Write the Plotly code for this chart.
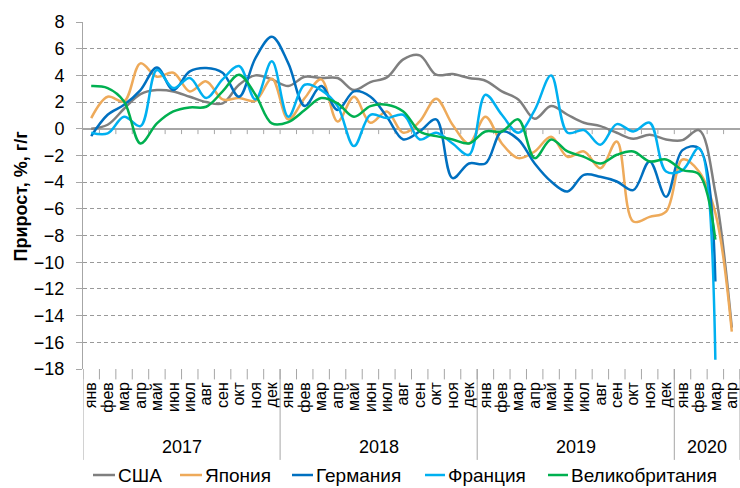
import plotly.graph_objects as go

months = ["янв", "фев", "мар", "апр", "май", "июн", "июл", "авг", "сен", "окт", "ноя", "дек"]
years = ["2017", "2018", "2019", "2020"]
months_per_year = [12, 12, 12, 4]
month_labels = months * 3 + months[:4]

usa = [0.0, 0.3, 1.5, 2.6, 2.9, 2.8, 2.4, 2.0, 1.9, 3.3, 4.0, 3.7,
       3.2, 3.9, 3.8, 3.8, 2.9, 3.5, 3.85, 5.2, 5.5, 4.05, 4.1, 3.8,
       3.6, 2.8, 2.2, 0.75, 1.7, 1.05, 0.45, 0.2, -0.3, -0.75, -0.45, -0.8,
       -0.85, -0.1, -4.8, -14.9]
japan = [0.8, 2.4, 2.05, 4.9, 3.9, 4.2, 2.8, 3.55, 2.2, 2.3, 2.1, 3.75,
         0.7, 2.3, 3.7, 0.55, 2.4, 0.45, 1.3, -0.3, 0.55, 2.25, 0.3, -1.1,
         0.9, -1.1, -2.2, -1.7, -0.6, -2.1, -1.7, -2.95, -0.95, -6.95, -6.6, -6.2,
         -2.3, -3.2, -6.3, -15.2]
germany = [-0.55, 1.05, 1.8, 2.9, 4.6, 2.9, 4.3, 4.55, 4.2, 2.4, 5.3, 6.9,
           4.9, 1.7, 3.2, 1.4, 2.8, 2.4, 0.9, -0.8, -0.2, 0.7, -3.7, -2.6,
           -2.6, -0.2, -0.8, -2.6, -3.95, -4.7, -3.45, -3.6, -3.95, -4.6, -2.45, -5.1,
           -1.6, -1.45, -11.45, None]
france = [-0.3, -0.35, 0.9, 0.2, 4.4, 3.05, 3.8, 2.3, 3.7, 4.7, 2.2, 5.05,
          0.9, 3.3, 2.9, 1.7, -1.3, 1.05, 0.8, 1.05, -0.8, -0.3, -1.1, -1.95,
          2.55, 1.05, -0.3, 1.4, 4.0, -0.3, -0.1, -1.2, 0.35, -0.2, 0.45, -3.2,
          -3.1, -1.45, -17.3, None]
uk = [3.2, 3.05, 2.05, -1.1, 0.4, 1.3, 1.6, 1.65, 2.8, 4.05, 2.55, 0.4,
      0.5, 1.4, 2.3, 1.9, 0.9, 1.7, 1.8, 1.3, -0.2, -0.55, -0.8, -1.1,
      -0.2, -0.2, 0.7, -2.2, -0.8, -1.7, -2.1, -2.6, -1.95, -1.7, -2.45, -2.3,
      -3.1, -3.4, -8.3, None]

series_names = ["США", "Япония", "Германия", "Франция", "Великобритания"]
series_values = [usa, japan, germany, france, uk]
series_colors = ["#7f7f7f", "#eeaa5a", "#0070c0", "#00b0f0", "#00b050"]

n = len(month_labels)
xs = list(range(n))

fig = go.Figure()
for name, vals, color in zip(series_names, series_values, series_colors):
    fig.add_trace(go.Scatter(
        x=xs, y=vals, name=name, mode="lines", showlegend=False,
        line=dict(color=color, width=2.5, shape="spline", smoothing=1.0),
        connectgaps=False,
    ))

axis_gray = "#a6a6a6"
shapes = []
# small ticks on the zero line at month boundaries
for k in range(1, n):
    shapes.append(dict(type="line", xref="x", yref="y", x0=k - 0.5, x1=k - 0.5,
                       y0=0, y1=-0.4, line=dict(color=axis_gray, width=1), layer="below"))
# ticks below the plot at month boundaries
for k in range(0, n + 1):
    shapes.append(dict(type="line", xref="x", yref="paper", x0=k - 0.5, x1=k - 0.5,
                       y0=0, y1=-0.03, line=dict(color=axis_gray, width=1)))
# year dividers and year labels
annotations = []
start = 0
bounds = [-0.5]
for yr, cnt in zip(years, months_per_year):
    end = start + cnt
    bounds.append(end - 0.5)
    annotations.append(dict(text=yr, xref="x", yref="paper", x=(start + end - 1) / 2,
                            y=-0.225, showarrow=False, font=dict(size=18),
                            xanchor="center", yanchor="middle"))
    start = end
for b in bounds:
    shapes.append(dict(type="line", xref="x", yref="paper", x0=b, x1=b,
                       y0=0, y1=-0.262, line=dict(color=axis_gray, width=1)))

# custom legend
plot_left, plot_w = 83, 657
leg_line_px = [(93, 115), (180, 202), (292, 313), (425, 445), (548, 568)]
leg_y = -0.3055
for name, color, (a, b) in zip(series_names, series_colors, leg_line_px):
    shapes.append(dict(type="line", xref="paper", yref="paper",
                       x0=(a - plot_left) / plot_w, x1=(b - plot_left) / plot_w,
                       y0=leg_y, y1=leg_y, line=dict(color=color, width=2.5)))
    annotations.append(dict(text=name, xref="paper", yref="paper",
                            x=(b + 1 - plot_left) / plot_w, y=leg_y,
                            showarrow=False, font=dict(size=19),
                            xanchor="left", yanchor="middle"))

annotations.append(dict(text="<b>Прирост, %, г/г</b>", xref="paper", yref="paper",
                        x=-0.0945, y=0.5, textangle=-90, showarrow=False,
                        font=dict(size=18), xanchor="center", yanchor="middle"))

fig.update_layout(
    width=740, height=488,
    margin=dict(l=83, r=0, t=22, b=119, autoexpand=False),
    paper_bgcolor="white", plot_bgcolor="white",
    font=dict(family="Liberation Sans, Arial, sans-serif", color="#000000", size=16),
    showlegend=False,
    xaxis=dict(range=[-0.5, n - 0.5], tickmode="array", tickvals=xs, ticktext=month_labels,
               tickangle=-90, tickfont=dict(size=16), ticks="", ticklabelstandoff=9,
               showgrid=False, showline=False, zeroline=False, automargin=False),
    yaxis=dict(range=[-18, 8], dtick=2, tick0=0, tickfont=dict(size=18),
               showgrid=True, gridcolor="#999999", griddash="4px,3px", gridwidth=1.2,
               showline=True, linecolor=axis_gray, linewidth=1,
               ticks="outside", ticklen=6, tickcolor=axis_gray, ticklabelstandoff=8,
               zeroline=True, zerolinecolor=axis_gray, zerolinewidth=1.5, automargin=False),
    shapes=shapes,
    annotations=annotations,
)

fig.write_html("out.html", config={"displayModeBar": False},
               post_script="document.body.style.margin='0';document.body.style.overflow='hidden';")
